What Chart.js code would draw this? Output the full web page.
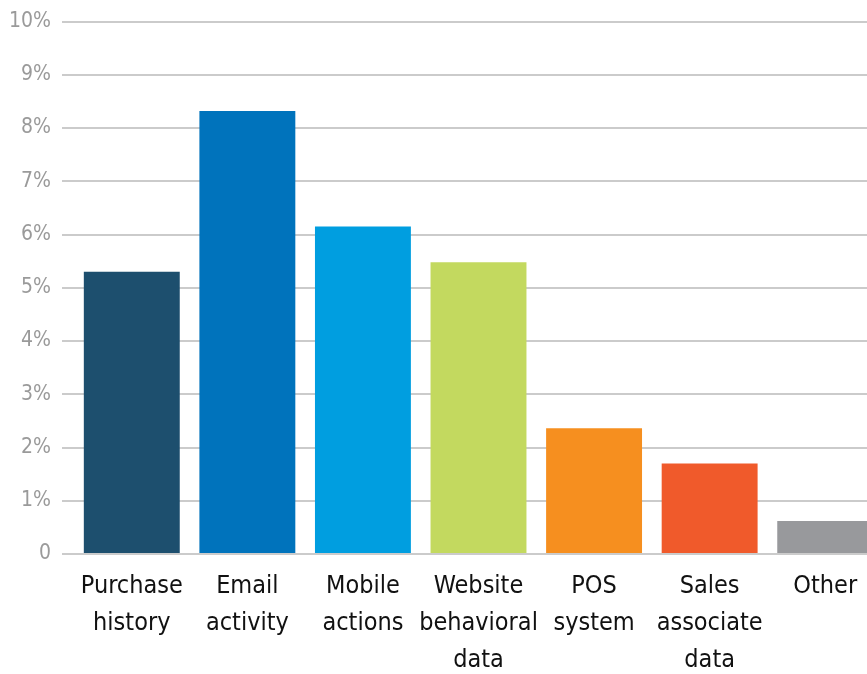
<!DOCTYPE html>
<html>
<head>
<meta charset="utf-8">
<script src="https://cdn.jsdelivr.net/npm/chart.js@4.4.0/dist/chart.umd.min.js"></script>
<style>
  html, body { margin: 0; padding: 0; background: #fff; overflow: hidden; }
  #wrap { position: relative; width: 890px; height: 674px; }
</style>
</head>
<body>
<div id="wrap"><canvas id="myCanvas"></canvas></div>
<script>
'use strict';

// categories and share of respondents (%)
let categories = [
  ['Purchase', 'history'],
  ['Email', 'activity'],
  ['Mobile', 'actions'],
  ['Website', 'behavioral', 'data'],
  ['POS', 'system'],
  ['Sales', 'associate', 'data'],
  ['Other']
];
let shares = [5.3, 8.32, 6.15, 5.48, 2.36, 1.7, 0.62];
let yTicks = [0, 1, 2, 3, 4, 5, 6, 7, 8, 9, 10];

const barColors = ['#1d4f6e', '#0073bc', '#009ee0', '#c3d95f', '#f68f1f', '#f05a2b', '#98999c'];
const narrow = '"Liberation Sans Narrow", "DejaVu Sans Condensed", "Liberation Sans", sans-serif';

function createChart() {
  const ctx = document.getElementById('myCanvas').getContext('2d');
  new Chart(ctx, {
    type: 'bar',
    data: {
      labels: categories,
      datasets: [{
        data: shares,
        backgroundColor: barColors,
        borderWidth: 0,
        categoryPercentage: 1,
        barPercentage: 0.83
      }]
    },
    options: {
      responsive: true,
      maintainAspectRatio: false,
      animation: false,
      layout: { padding: { top: 0, right: 7, left: 0, bottom: 0 } },
      plugins: { legend: { display: false }, tooltip: { enabled: false } },
      scales: {
        x: {
          grid: { display: false },
          border: { display: false },
          ticks: {
            color: '#111',
            padding: 6,
            maxRotation: 0,
            autoSkip: false,
            font: { family: narrow, size: 25, lineHeight: 1.48 }
          },
          afterFit: function (axis) { axis.height = 120; }
        },
        y: {
          min: 0,
          max: 10,
          afterBuildTicks: function (axis) {
            axis.ticks = yTicks.map(function (v) { return { value: v }; });
          },
          grid: {
            color: '#cbcbcb',
            lineWidth: 2,
            drawTicks: true,
            tickLength: 12,
            tickColor: '#cbcbcb'
          },
          border: { display: false },
          ticks: {
            color: '#9a9a9a',
            padding: 11,
            font: { family: narrow, size: 21, lineHeight: 1 },
            callback: function (v) { return v === 0 ? '0' : v + '%'; }
          },
          afterFit: function (axis) { axis.width = 74; }
        }
      }
    }
  });
}

createChart();
</script>
</body>
</html>
